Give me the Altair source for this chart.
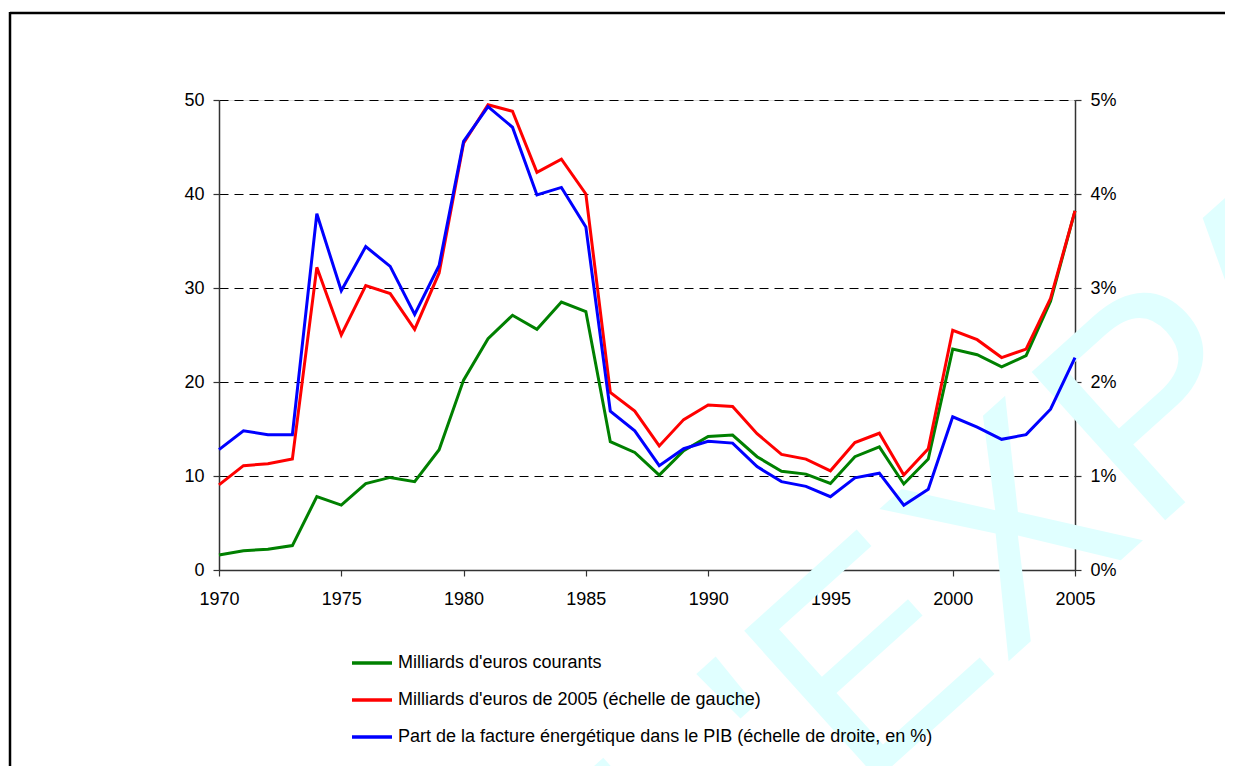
import altair as alt
import pandas as pd

years = list(range(1970, 2006))

# Milliards d'euros courants
courants = [1.6, 2.05, 2.2, 2.6, 7.8, 6.9, 9.2, 9.85, 9.4, 12.8,
            20.2, 24.6, 27.1, 25.6, 28.5, 27.5, 13.65, 12.5, 10.1, 12.7,
            14.2, 14.35, 12.05, 10.5, 10.2, 9.2, 12.05, 13.1, 9.15, 11.8,
            23.5, 22.9, 21.6, 22.8, 28.6, 38.2]

# Milliards d'euros de 2005
constants = [9.05, 11.1, 11.3, 11.8, 32.2, 25.0, 30.25, 29.4, 25.6, 31.6,
             45.4, 49.5, 48.8, 42.3, 43.7, 40.0, 18.9, 16.9, 13.2, 16.0,
             17.55, 17.4, 14.5, 12.3, 11.8, 10.55, 13.55, 14.55, 10.1, 12.9,
             25.5, 24.5, 22.6, 23.5, 28.9, 38.2]

# Part de la facture energetique dans le PIB (%)
part_pib = [1.28, 1.48, 1.44, 1.44, 3.79, 2.97, 3.44, 3.23, 2.72, 3.24,
            4.56, 4.93, 4.71, 3.99, 4.07, 3.65, 1.69, 1.48, 1.11, 1.29,
            1.37, 1.35, 1.10, 0.94, 0.89, 0.78, 0.98, 1.03, 0.69, 0.86,
            1.63, 1.52, 1.39, 1.44, 1.71, 2.26]

labels = ["Milliards d'euros courants",
          "Milliards d'euros de 2005 (échelle de gauche)",
          "Part de la facture énergétique dans le PIB (échelle de droite, en %)"]
colors = ["#008000", "#ff0000", "#0000ff"]
x_ticks = list(range(1970, 2006, 5))
left_ticks = [0, 10, 20, 30, 40, 50]
right_ticks = [0, 0.01, 0.02, 0.03, 0.04, 0.05]
watermark_text = ["L'EXPANSION"]

FONT = "Liberation Sans"
AX = "#333333"

left_df = pd.DataFrame({
    "year": years * 2,
    "value": courants + constants,
    "series": [labels[0]] * len(years) + [labels[1]] * len(years),
})
right_df = pd.DataFrame({
    "year": years,
    "value": [v / 100 for v in part_pib],
    "series": [labels[2]] * len(years),
})

x_enc = alt.X("year:Q",
              scale=alt.Scale(domain=[1970, 2005], nice=False, zero=False),
              axis=alt.Axis(values=x_ticks, format="d", title=None, grid=False,
                            tickSize=6, labelFontSize=18, labelPadding=14,
                            labelFlush=False,
                            labelFont=FONT, labelColor="black",
                            domainColor=AX, domainWidth=1.5,
                            tickColor=AX, tickWidth=1.2))

color_enc = alt.Color("series:N",
                      scale=alt.Scale(domain=labels, range=colors),
                      legend=alt.Legend(title=None, orient="none",
                                        legendX=131, legendY=541,
                                        symbolType="stroke", symbolSize=1600,
                                        symbolStrokeWidth=3.5,
                                        labelFontSize=18, labelFont=FONT,
                                        labelColor="black", labelOffset=4,
                                        rowPadding=6, padding=0,
                                        labelLimit=800))

watermark = alt.Chart(pd.DataFrame({"t": watermark_text})).mark_text(
    fontSize=290, font=FONT, color="#e0ffff", angle=318,
    align="left", baseline="alphabetic"
).encode(x=alt.value(480), y=alt.value(840), text="t:N")

border_top = alt.Chart(pd.DataFrame({"k": [0]})).mark_rule(
    color="black", strokeWidth=2.5
).encode(x=alt.value(-209), x2=alt.value(1100), y=alt.value(-87))

border_left = alt.Chart(pd.DataFrame({"k": [0]})).mark_rule(
    color="black", strokeWidth=2.5
).encode(x=alt.value(-209), y=alt.value(-88), y2=alt.value(800))

left_lines = alt.Chart(left_df).mark_line(strokeWidth=3).encode(
    x=x_enc,
    y=alt.Y("value:Q", scale=alt.Scale(domain=[0, 50], nice=False),
            axis=alt.Axis(values=left_ticks, title=None,
                          grid=True, gridDash=[9, 6], gridColor="black",
                          gridWidth=1, tickSize=6, labelFontSize=18,
                          labelFont=FONT, labelColor="black", labelPadding=9,
                          domainColor=AX, domainWidth=1.5,
                          tickColor=AX, tickWidth=1.2)),
    color=color_enc,
    detail="series:N",
)

right_line = alt.Chart(right_df).mark_line(strokeWidth=3).encode(
    x=x_enc,
    y=alt.Y("value:Q", scale=alt.Scale(domain=[0, 0.05], nice=False),
            axis=alt.Axis(orient="right", values=right_ticks,
                          format=".0%", title=None, grid=False, tickSize=6,
                          labelFontSize=18, labelFont=FONT, labelColor="black",
                          labelPadding=9, domainColor=AX, domainWidth=1.5,
                          tickColor=AX, tickWidth=1.2)),
    color=color_enc,
)

lines = alt.layer(left_lines, right_line).resolve_scale(y="independent")

chart = alt.layer(watermark, border_top, border_left, lines).properties(
    width=856, height=470,
    autosize=alt.AutoSizeParams(type="none"),
    padding={"left": 211, "top": 92, "right": 150, "bottom": 196},
).configure_view(stroke=None).configure(background="white")

chart.save("out.html", embed_options={"renderer": "svg", "actions": False})
